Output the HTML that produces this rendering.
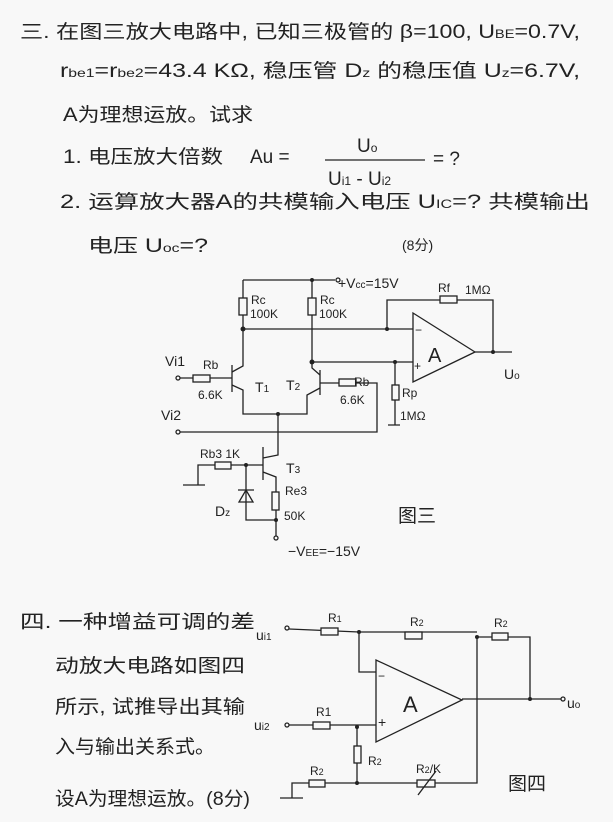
<!DOCTYPE html>
<html><head><meta charset="utf-8"><style>
html,body{margin:0;padding:0;background:#f8f8f8;}
svg{display:block;}
text{font-family:"Liberation Sans","Noto Sans CJK SC",sans-serif;fill:#222;}
.t{font-size:19px;}
.s{font-size:12px;}
.m{font-size:14px;}
</style></head><body>
<svg width="613" height="822" viewBox="0 0 613 822" xmlns="http://www.w3.org/2000/svg">
<rect width="613" height="822" fill="#f8f8f8"/>
<!-- text section 3 -->
<text class="t" x="20" y="38" textLength="560" lengthAdjust="spacingAndGlyphs">三. 在图三放大电路中, 已知三极管的 β=100, U<tspan font-size="12">BE</tspan>=0.7V,</text>
<text class="t" x="60" y="77" textLength="520" lengthAdjust="spacingAndGlyphs">r<tspan font-size="12">be1</tspan>=r<tspan font-size="12">be2</tspan>=43.4 KΩ, 稳压管 D<tspan font-size="12">z</tspan> 的稳压值 U<tspan font-size="12">z</tspan>=6.7V,</text>
<text class="t" x="63" y="121" textLength="190" lengthAdjust="spacingAndGlyphs">A为理想运放。试求</text>
<text class="t" x="63" y="163" textLength="160" lengthAdjust="spacingAndGlyphs">1. 电压放大倍数</text>
<text class="t" x="250" y="163">Au =</text>
<text class="t" x="357" y="152">U<tspan font-size="12">o</tspan></text>
<line x1="325" y1="160" x2="425" y2="160" stroke="#222" stroke-width="1.2"/>
<text class="t" x="328" y="185">U<tspan font-size="12">i1</tspan> - U<tspan font-size="12">i2</tspan></text>
<text class="t" x="433" y="165">= ?</text>
<text class="t" x="60" y="208" textLength="530" lengthAdjust="spacingAndGlyphs">2. 运算放大器A的共模输入电压 U<tspan font-size="12">IC</tspan>=?  共模输出</text>
<text class="t" x="88" y="252" textLength="120" lengthAdjust="spacingAndGlyphs">电压 U<tspan font-size="12">oc</tspan>=?</text>
<text class="m" x="402" y="250">(8分)</text>

<!-- figure 3 -->
<g stroke="#222" stroke-width="1.3" fill="none">
<path d="M243 280 H335"/><circle cx="338" cy="280" r="2"/>
<path d="M243 280 V329"/><rect x="239" y="298" width="8" height="17" fill="#f8f8f8"/>
<path d="M312 280 V362"/><rect x="308" y="298" width="8" height="17" fill="#f8f8f8"/>
<path d="M243 329 H413"/>
<path d="M387 329 V300 H493 V352"/><rect x="440" y="296" width="17" height="7" fill="#f8f8f8"/>
<path d="M413 313 V382 L475 352 Z"/>
<path d="M475 352 H512"/>
<path d="M312 362 H413"/>
<path d="M395 362 V425 M388 425 H400"/><rect x="392" y="385" width="7" height="15" fill="#f8f8f8"/>
<!-- T1 -->
<path d="M180 378 H232"/><circle cx="178" cy="378" r="2"/><rect x="193" y="375" width="17" height="7" fill="#f8f8f8"/>
<path d="M232 365 V392"/>
<path d="M232 372 L243 366 V329"/>
<path d="M232 385 L243 390 V414 H307 V395 L320 388"/>
<!-- T2 -->
<path d="M320 370 V395"/>
<path d="M320 375 L312 368 V362"/>
<path d="M320 383 H377 V432 H180"/><circle cx="178" cy="432" r="2"/><rect x="339" y="379" width="17" height="7" fill="#f8f8f8"/>
<!-- tail and T3 -->
<path d="M278 414 V455 L263 458"/>
<path d="M263 447 V480"/>
<path d="M263 472 L276 477 V520"/><rect x="272" y="492" width="7" height="18" fill="#f8f8f8"/>
<path d="M198 485 V465 H263"/><path d="M183 485 H205"/><rect x="215" y="462" width="16" height="7" fill="#f8f8f8"/>
<path d="M246 465 V520 H276 V536"/><circle cx="276" cy="538" r="2"/>
<path d="M239 502 H253 L246 490 Z M238 490 H254"/>
</g>
<g fill="#222">
<circle cx="243" cy="329" r="2.5"/><circle cx="312" cy="280" r="2"/><circle cx="387" cy="329" r="2"/><circle cx="312" cy="362" r="2.5"/><circle cx="395" cy="362" r="2"/><circle cx="493" cy="352" r="2"/><circle cx="278" cy="414" r="2"/><circle cx="246" cy="465" r="2"/><circle cx="276" cy="520" r="2"/>
</g>
<text class="m" x="338" y="288">+V<tspan font-size="10">cc</tspan>=15V</text>
<text class="s" x="251" y="304">Rc</text><text class="s" x="250" y="318" font-size="10">100K</text>
<text class="s" x="320" y="304">Rc</text><text class="s" x="319" y="318" font-size="10">100K</text>
<text class="s" x="438" y="292">Rf</text><text class="s" x="465" y="294">1MΩ</text>
<text x="428" y="362" font-size="20">A</text>
<text class="s" x="415" y="334">−</text><text class="s" x="414" y="370">+</text>
<text class="m" x="504" y="379">U<tspan font-size="10">o</tspan></text>
<text class="m" x="165" y="366">Vi1</text><text class="s" x="203" y="369">Rb</text><text class="s" x="198" y="399">6.6K</text>
<text class="m" x="255" y="392">T<tspan font-size="10">1</tspan></text><text class="m" x="286" y="390">T<tspan font-size="10">2</tspan></text>
<text class="s" x="354" y="386">Rb</text><text class="s" x="340" y="404">6.6K</text>
<text class="s" x="402" y="397">Rp</text><text class="s" x="400" y="420" font-size="10">1MΩ</text>
<text class="m" x="161" y="420">Vi2</text>
<text class="s" x="200" y="458">Rb3 1K</text><text class="m" x="286" y="473">T<tspan font-size="10">3</tspan></text>
<text class="s" x="285" y="495">Re3</text><text class="s" x="284" y="520">50K</text>
<text class="m" x="215" y="516">D<tspan font-size="10">z</tspan></text>
<text class="m" x="288" y="556">−V<tspan font-size="10">EE</tspan>=−15V</text>
<text class="t" x="398" y="522">图三</text>

<!-- section 4 text -->
<text class="t" x="20" y="628" textLength="235" lengthAdjust="spacingAndGlyphs">四. 一种增益可调的差</text>
<text class="t" x="55" y="672" textLength="190" lengthAdjust="spacingAndGlyphs">动放大电路如图四</text>
<text class="t" x="55" y="713" textLength="190" lengthAdjust="spacingAndGlyphs">所示, 试推导出其输</text>
<text class="t" x="55" y="753" textLength="160" lengthAdjust="spacingAndGlyphs">入与输出关系式。</text>
<text class="t" x="55" y="805" textLength="195" lengthAdjust="spacingAndGlyphs">设A为理想运放。(8分)</text>

<!-- figure 4 -->
<g stroke="#222" stroke-width="1.3" fill="none">
<circle cx="287" cy="628" r="2"/>
<path d="M289 629 L359 632 H477"/><rect x="321" y="628" width="17" height="7" fill="#f8f8f8"/>
<rect x="405" y="632" width="17" height="7" fill="#f8f8f8"/>
<path d="M477 637 H530 V699"/><rect x="492" y="633" width="16" height="7" fill="#f8f8f8"/>
<path d="M359 632 V672 H376"/>
<path d="M376 660 V742 L462 700 Z"/>
<path d="M462 699 H561"/><circle cx="563" cy="699" r="2"/>
<circle cx="287" cy="725" r="2"/>
<path d="M289 725 H376"/><rect x="313" y="722" width="17" height="7" fill="#f8f8f8"/>
<path d="M357 727 V783"/><rect x="354" y="746" width="7" height="17" fill="#f8f8f8"/>
<path d="M292 798 V783 H477 V637"/><path d="M280 798 H303"/>
<rect x="309" y="780" width="16" height="7" fill="#f8f8f8"/>
<rect x="417" y="780" width="18" height="7" fill="#f8f8f8"/>
<path d="M418 795 L436 771"/>
</g>
<g fill="#222"><circle cx="359" cy="632" r="2"/><circle cx="477" cy="637" r="2"/><circle cx="530" cy="699" r="2"/><circle cx="357" cy="727" r="2"/><circle cx="357" cy="783" r="2"/></g>
<text class="m" x="256" y="640">u<tspan font-size="10">i1</tspan></text>
<text class="s" x="328" y="622">R<tspan font-size="9">1</tspan></text>
<text class="s" x="410" y="626">R<tspan font-size="9">2</tspan></text>
<text class="s" x="494" y="627">R<tspan font-size="9">2</tspan></text>
<text class="s" x="378" y="680">−</text><text class="m" x="378" y="727">+</text>
<text x="403" y="712" font-size="22">A</text>
<text class="m" x="567" y="708">u<tspan font-size="10">o</tspan></text>
<text class="m" x="254" y="730">u<tspan font-size="10">i2</tspan></text>
<text class="s" x="316" y="716">R1</text>
<text class="s" x="368" y="765">R<tspan font-size="9">2</tspan></text>
<text class="s" x="310" y="775">R<tspan font-size="9">2</tspan></text>
<text class="s" x="416" y="773">R<tspan font-size="9">2</tspan>/K</text>
<text class="t" x="508" y="790">图四</text>
</svg>
</body></html>
